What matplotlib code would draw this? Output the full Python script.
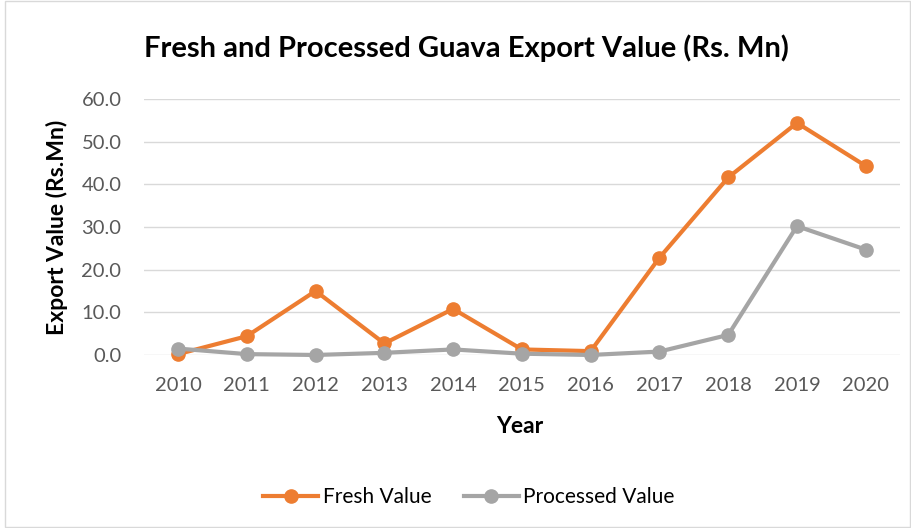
import matplotlib
matplotlib.use("Agg")
import matplotlib.pyplot as plt
from matplotlib.patches import Rectangle

# data
years = [2010, 2011, 2012, 2013, 2014, 2015, 2016, 2017, 2018, 2019, 2020]
fresh = [0.2, 4.4, 15.0, 2.7, 10.8, 1.3, 0.9, 22.8, 41.6, 54.4, 44.3]
processed = [1.5, 0.2, 0.0, 0.5, 1.3, 0.3, 0.0, 0.8, 4.7, 30.2, 24.7]
yticks = [0, 10, 20, 30, 40, 50, 60]

plt.rcParams['font.family'] = ['Lato', 'DejaVu Sans']

fig = plt.figure(figsize=(9.12, 5.28), dpi=100)
ax = fig.add_axes([0.1575, 0.3277, 0.8295, 0.4848])

# light border around the whole chart
fig.patches.append(Rectangle((0.006, 0.001), 0.992, 0.997, transform=fig.transFigure,
                             fill=False, edgecolor='#D9D9D9', linewidth=1))

ax.plot(years, fresh, color='#ED7D31', lw=3, marker='o', ms=9.5,
        label='Fresh Value', clip_on=False, zorder=3)
ax.plot(years, processed, color='#A5A5A5', lw=3, marker='o', ms=9.5,
        label='Processed Value', clip_on=False, zorder=4)

ax.set_xlim(2009.5, 2020.5)
ax.set_ylim(0, 60)
ax.set_xticks(years)
ax.set_yticks(yticks)
ax.set_yticklabels([f"{v:.1f}" for v in yticks])
ax.grid(axis='y', color='#D9D9D9', lw=1)
ax.set_axisbelow(True)
for s in ax.spines.values():
    s.set_visible(False)
ax.tick_params(length=0, labelsize=14.5, labelcolor='#595959')
ax.tick_params(axis='x', pad=16)
ax.tick_params(axis='y', pad=16)

ax.set_xlabel('Year', fontsize=16.5, fontweight='bold', va='center')
ax.xaxis.set_label_coords(0.497, -0.281)
ax.set_ylabel('Export Value (Rs.Mn)', fontsize=16.5, fontweight='bold', va='center')
ax.yaxis.set_label_coords(-0.1144, 0.5)
fig.text(0.511, 0.909, 'Fresh and Processed Guava Export Value (Rs. Mn)',
         ha='center', va='center', fontsize=21, fontweight='bold')

fig.legend(loc='center', bbox_to_anchor=(0.514, 0.0587), ncol=2, frameon=False,
           fontsize=15, handlelength=2.65, handletextpad=0.2, columnspacing=1.55)

fig.savefig('out.png', dpi=100)
